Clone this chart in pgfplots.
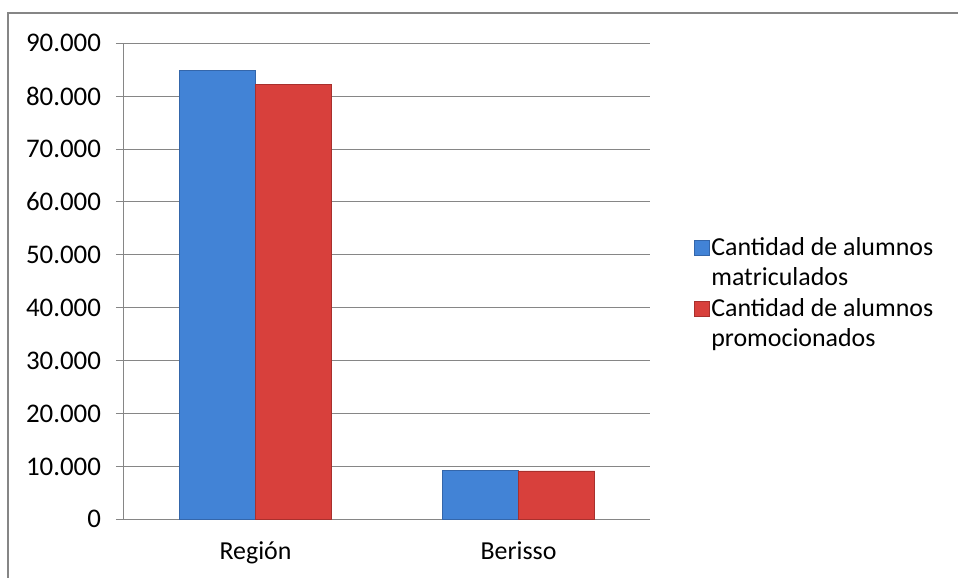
\documentclass[border=0pt]{standalone}
\usepackage{pgfplots}
\pgfplotsset{compat=1.18}
\usepackage{fontspec}
\setmainfont{Carlito}

\definecolor{barblue}{RGB}{66,131,214}
\definecolor{barblueD}{RGB}{52,102,170}
\definecolor{barred}{RGB}{216,64,60}
\definecolor{barredD}{RGB}{168,48,45}
\definecolor{gridgray}{RGB}{134,134,134}
\definecolor{framegray}{RGB}{134,134,134}

\begin{document}
\fontsize{13}{15}\selectfont
\begin{tikzpicture}
\begin{axis}[
  at={(0,0)}, anchor=south west,
  scale only axis,
  width=263bp, height=238bp,
  ybar=0pt,
  bar width=0.289,
  xmin=-0.5, xmax=1.5,
  ymin=0, ymax=90000,
  ytick={0,10000,...,90000},
  scaled y ticks=false,
  yticklabel style={/pgf/number format/.cd, fixed, 1000 sep={.}, assume math mode=true,
    /tikz/.cd, xshift=-3bp, font=\fontsize{13.5}{15}\selectfont},
  xtick={0,1},
  xticklabels={Región,Berisso},
  xticklabel style={yshift=-2.5bp},
  x tick style={draw=none},
  extra x ticks={-0.5,0.5,1.5},
  extra x tick labels={},
  extra x tick style={tick style={draw=gridgray}, major tick length=4bp, tick align=outside},
  ymajorgrids,
  grid style={gridgray, line width=0.5bp},
  axis x line*=bottom,
  axis y line*=left,
  axis line style={gridgray, line width=0.5bp},
  y tick style={gridgray, line width=0.5bp},
  tick align=outside,
  major tick length=4bp,
  tick label style={font=\fontsize{13}{15}\selectfont, text=black},
  legend style={at={(1.082,0.6036)}, anchor=north west, draw=none, fill=none,
    font=\fontsize{13}{15}\selectfont, cells={anchor=base west},
    row sep=16bp, inner sep=0pt, nodes={inner sep=1bp}},
  legend image code/.code={\fill[#1] (0,0) rectangle (7.5bp,7.5bp);},
]
\addplot[fill=barblue, draw=barblueD, line width=0.4bp] coordinates {(0,84800) (1,9320)};
\addplot[fill=barred, draw=barredD, line width=0.4bp] coordinates {(0,82200) (1,9150)};
\addlegendentry{\begin{tabular}[t]{@{}l@{}}Cantidad de alumnos\\matriculados\end{tabular}}
\addlegendentry{\begin{tabular}[t]{@{}l@{}}Cantidad de alumnos\\promocionados\end{tabular}}
\end{axis}
% outer frame of the chart (reference: 1 px = 0.5bp, axis corner at px 124,519.3)
\draw[framegray,line width=1bp] (-58bp,-29.35bp) -- (-58bp,253.15bp) -- (417bp,253.15bp);
\pgfresetboundingbox
\useasboundingbox (-62bp,-29.35bp) rectangle (417bp,259.65bp);
\end{tikzpicture}
\end{document}
